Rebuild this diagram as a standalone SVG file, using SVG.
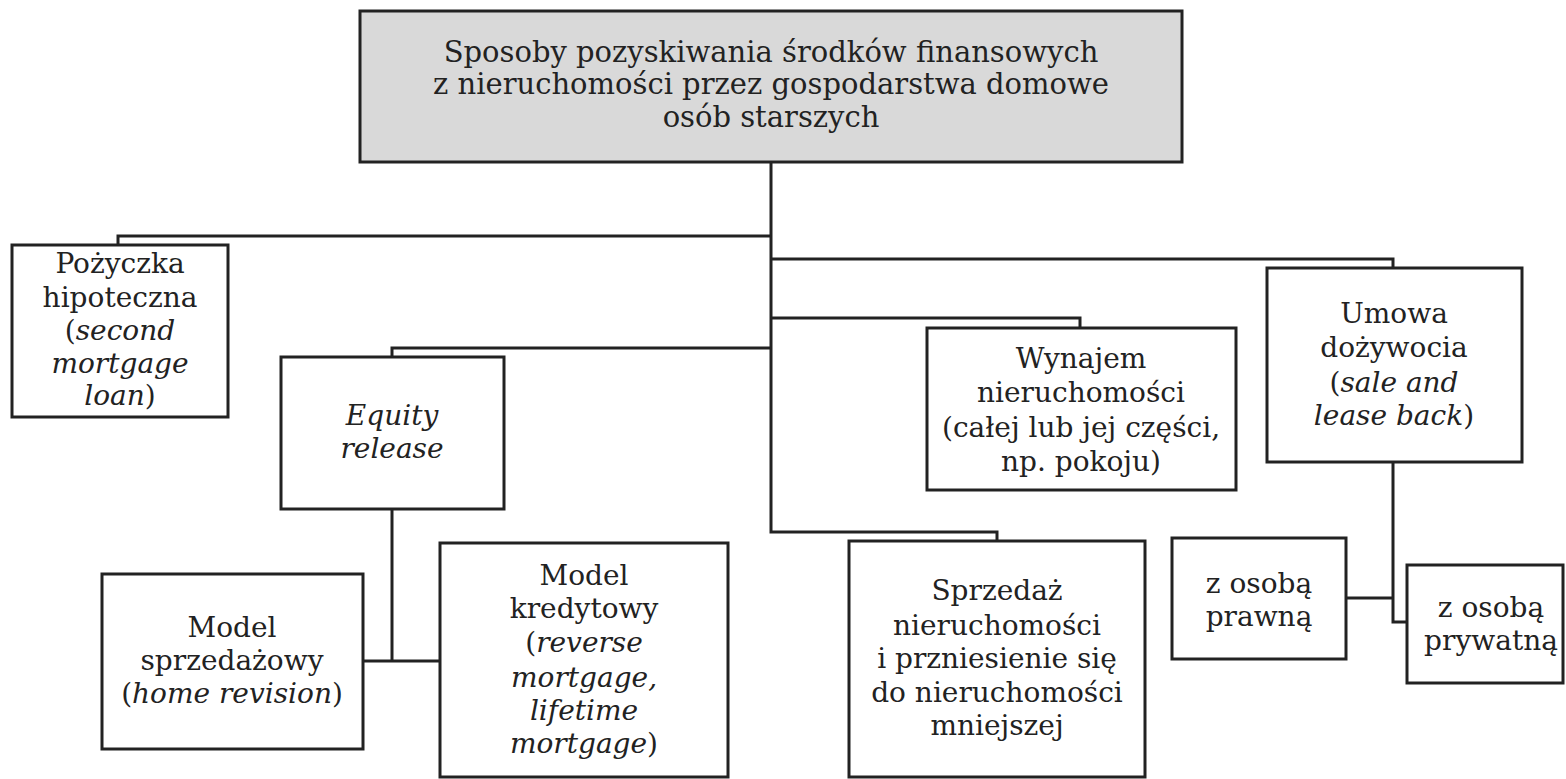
<svg xmlns="http://www.w3.org/2000/svg" width="1566" height="779" viewBox="0 0 1566 779">
<style>
.box{fill:#fff;stroke:#222;stroke-width:3}
.top{fill:#d9d9d9;stroke:#222;stroke-width:3}
.t{font-family:"DejaVu Serif","Liberation Serif",serif;font-size:28px;fill:#222;text-anchor:middle}
.tt{font-size:29px}
.i{font-style:italic}
.c{fill:none;stroke:#222;stroke-width:3}
</style>
<rect width="1566" height="779" fill="#fff"/>
<g id="connectors">
<path class="c" d="M771 162 V532 H997 V541"/>
<path class="c" d="M771 236 H118 V245"/>
<path class="c" d="M771 259 H1393 V268"/>
<path class="c" d="M771 318 H1080 V328"/>
<path class="c" d="M771 348 H392 V357"/>
<path class="c" d="M392 509 V661"/>
<path class="c" d="M363 661 H440"/>
<path class="c" d="M1393 462 V622 H1407"/>
<path class="c" d="M1346 598 H1393"/>
</g>
<g id="root">
<rect class="top" x="360" y="11" width="822" height="151"/>
<text class="t tt" x="771" y="62">Sposoby pozyskiwania środków finansowych</text>
<text class="t tt" x="771" y="94">z nieruchomości przez gospodarstwa domowe</text>
<text class="t tt" x="771" y="127">osób starszych</text>
</g>
<g id="pozyczka">
<rect class="box" x="12" y="245" width="216" height="172"/>
<text class="t" x="120" y="273">Pożyczka</text>
<text class="t" x="120" y="307">hipoteczna</text>
<text class="t" x="120" y="340">(<tspan class="i">second</tspan></text>
<text class="t i" x="120" y="373">mortgage</text>
<text class="t" x="120" y="405"><tspan class="i">loan</tspan>)</text>
</g>
<g id="equity">
<rect class="box" x="281" y="357" width="223" height="152"/>
<text class="t i" x="392" y="425">Equity</text>
<text class="t i" x="392" y="458">release</text>
</g>
<g id="wynajem">
<rect class="box" x="927" y="328" width="309" height="162"/>
<text class="t" x="1081" y="368">Wynajem</text>
<text class="t" x="1081" y="402">nieruchomości</text>
<text class="t" x="1081" y="437">(całej lub jej części,</text>
<text class="t" x="1081" y="471">np. pokoju)</text>
</g>
<g id="umowa">
<rect class="box" x="1267" y="268" width="255" height="194"/>
<text class="t" x="1394" y="323">Umowa</text>
<text class="t" x="1394" y="357">dożywocia</text>
<text class="t" x="1394" y="392">(<tspan class="i">sale and</tspan></text>
<text class="t" x="1394" y="425"><tspan class="i">lease back</tspan>)</text>
</g>
<g id="sprzedazowy">
<rect class="box" x="102" y="574" width="261" height="175"/>
<text class="t" x="232" y="637">Model</text>
<text class="t" x="232" y="670">sprzedażowy</text>
<text class="t" x="232" y="703">(<tspan class="i">home revision</tspan>)</text>
</g>
<g id="kredytowy">
<rect class="box" x="440" y="543" width="288" height="234"/>
<text class="t" x="584" y="585">Model</text>
<text class="t" x="584" y="618">kredytowy</text>
<text class="t" x="584" y="652">(<tspan class="i">reverse</tspan></text>
<text class="t i" x="584" y="687">mortgage,</text>
<text class="t i" x="584" y="720">lifetime</text>
<text class="t" x="584" y="753"><tspan class="i">mortgage</tspan>)</text>
</g>
<g id="sprzedaz">
<rect class="box" x="849" y="541" width="296" height="236"/>
<text class="t" x="997" y="600">Sprzedaż</text>
<text class="t" x="997" y="635">nieruchomości</text>
<text class="t" x="997" y="668">i przniesienie się</text>
<text class="t" x="997" y="702">do nieruchomości</text>
<text class="t" x="997" y="735">mniejszej</text>
</g>
<g id="prawna">
<rect class="box" x="1172" y="538" width="174" height="121"/>
<text class="t" x="1259" y="593">z osobą</text>
<text class="t" x="1259" y="626">prawną</text>
</g>
<g id="prywatna">
<rect class="box" x="1407" y="565" width="156" height="118"/>
<text class="t" x="1491" y="617">z osobą</text>
<text class="t" x="1491" y="650">prywatną</text>
</g>
</svg>
